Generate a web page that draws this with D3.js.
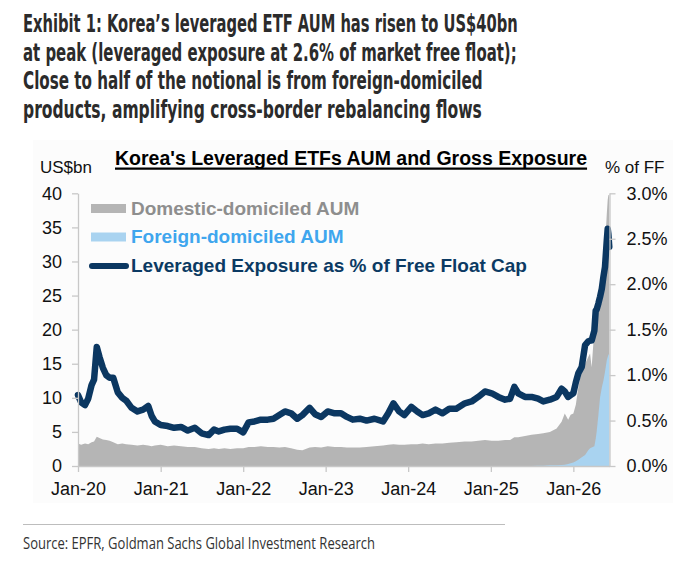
<!DOCTYPE html>
<html><head><meta charset="utf-8">
<script src="https://cdn.jsdelivr.net/npm/d3@7"></script>
<style>body{margin:0;background:#fff}</style>
</head><body>
<svg id="c" width="695" height="562"></svg>
<script>
// ---------------- DATA ----------------
const titleLines = [
  "Exhibit 1: Korea\u2019s leveraged ETF AUM has risen to US$40bn",
  "at peak (leveraged exposure at 2.6% of market free float);",
  "Close to half of the notional is from foreign-domiciled",
  "products, amplifying cross-border rebalancing flows"
];
const chartTitle = "Korea's Leveraged ETFs AUM and Gross Exposure";
const leftUnit = "US$bn";
const rightUnit = "% of FF";
const seriesNames = ["Domestic-domiciled AUM", "Foreign-domiciled AUM", "Leveraged Exposure as % of Free Float Cap"];
const sourceText = "Source: EPFR, Goldman Sachs Global Investment Research";
const leftTicks = [0, 5, 10, 15, 20, 25, 30, 35, 40];
const rightTicks = [0, 0.005, 0.01, 0.015, 0.02, 0.025, 0.03];
const xTickDates = ["2020-01-01","2021-01-01","2022-01-01","2023-01-01","2024-01-01","2025-01-01","2026-01-01"];
const xTickLabels = ["Jan-20","Jan-21","Jan-22","Jan-23","Jan-24","Jan-25","Jan-26"];

const dates = [
 "2020-01-01","2020-01-15","2020-02-01","2020-02-15","2020-03-01","2020-03-12","2020-03-24","2020-04-05","2020-04-20","2020-05-05",
 "2020-05-20","2020-06-05","2020-06-25","2020-07-15","2020-08-01","2020-08-25","2020-09-20","2020-10-15","2020-11-07","2020-11-22",
 "2020-12-06","2021-01-01","2021-02-01","2021-03-01","2021-04-01","2021-05-01","2021-06-01","2021-07-01","2021-08-01","2021-08-25",
 "2021-09-15","2021-10-10","2021-11-05","2021-12-05","2022-01-01","2022-01-25","2022-02-20","2022-03-20","2022-04-20","2022-05-15",
 "2022-06-10","2022-07-05","2022-08-01","2022-08-28","2022-09-20","2022-10-22","2022-11-15","2022-12-12","2023-01-10","2023-02-10",
 "2023-03-10","2023-04-05","2023-05-01","2023-06-01","2023-07-01","2023-08-05","2023-09-12","2023-10-05","2023-10-28","2023-11-22",
 "2023-12-15","2024-01-15","2024-02-10","2024-03-05","2024-04-01","2024-05-01","2024-06-01","2024-07-01","2024-08-01","2024-09-08",
 "2024-10-08","2024-11-06","2024-12-06","2025-01-05","2025-02-03","2025-03-05","2025-03-27","2025-04-15","2025-05-02","2025-06-01",
 "2025-06-30","2025-07-29","2025-08-21","2025-09-19","2025-10-19","2025-11-10","2025-11-24","2025-12-09","2025-12-20","2026-01-01",
 "2026-01-12","2026-01-23","2026-02-07","2026-02-22","2026-03-08","2026-03-16","2026-03-23","2026-04-04","2026-04-10","2026-04-14",
 "2026-04-22","2026-04-29","2026-05-07","2026-05-14","2026-05-21","2026-05-29","2026-06-02","2026-06-05","2026-06-09"
];
// Leveraged exposure as % of free float cap (right axis, in %)
const exposurePct = [
 0.78,0.70,0.67,0.74,0.89,0.95,1.31,1.20,1.08,1.00,
 0.97,0.97,0.81,0.75,0.72,0.64,0.60,0.62,0.66,0.55,
 0.49,0.45,0.44,0.42,0.43,0.39,0.42,0.36,0.34,0.40,
 0.38,0.40,0.41,0.41,0.37,0.48,0.49,0.51,0.51,0.52,
 0.56,0.60,0.58,0.52,0.56,0.64,0.57,0.54,0.60,0.58,
 0.58,0.54,0.51,0.52,0.50,0.52,0.49,0.58,0.69,0.60,
 0.56,0.65,0.60,0.56,0.58,0.62,0.58,0.63,0.63,0.69,
 0.71,0.76,0.82,0.80,0.76,0.73,0.74,0.87,0.80,0.76,
 0.76,0.74,0.71,0.73,0.76,0.85,0.82,0.76,0.78,0.80,
 0.92,1.02,1.09,1.33,1.37,1.38,1.38,1.49,1.71,1.72,
 1.79,1.86,1.95,2.08,2.19,2.48,2.61,2.55,2.41
];
// Domestic-domiciled AUM (US$bn)
const domesticAUM = [
 3.3,3.1,3.3,3.2,3.5,3.6,4.3,4.1,3.9,3.8,
 3.7,3.5,3.2,3.3,3.2,3.1,3.0,3.1,3.0,2.9,
 3.0,3.1,2.9,3.0,2.9,2.8,2.8,2.6,2.5,2.6,
 2.5,2.6,2.5,2.6,2.6,2.8,2.8,2.9,2.8,2.8,
 2.7,2.8,2.6,2.4,2.3,2.7,2.8,2.7,2.9,2.8,
 2.8,2.7,2.7,2.7,2.8,2.9,3.0,3.1,3.2,3.1,
 3.1,3.2,3.2,3.3,3.2,3.3,3.3,3.4,3.5,3.6,
 3.6,3.7,3.8,3.7,3.7,3.8,3.8,4.2,4.2,4.4,
 4.6,4.65,4.75,4.9,5.4,6.35,7.5,6.5,7.1,7.2,
 8.3,10.6,12.7,13.4,13.7,13.9,11.8,17.1,17.8,17.5,
 16.3,14.3,13.5,16.0,18.2,21.5,23.0,23.4,23.3
];
// Foreign-domiciled AUM (US$bn)
const foreignAUM = [
 0,0,0,0,0,0,0,0,0,0,
 0,0,0,0,0,0,0,0,0,0,
 0,0,0,0,0,0,0,0,0,0,
 0,0,0,0,0,0,0,0,0,0,
 0,0,0,0,0,0,0,0,0,0,
 0,0,0,0,0,0,0,0,0,0,
 0,0,0,0,0,0,0,0,0,0,
 0,0,0,0,0,0,0,0,0,0,
 0,0.05,0.05,0.1,0.1,0.15,0.2,0.3,0.4,0.5,
 0.7,0.9,1.3,1.6,2.3,2.6,2.7,2.9,4.0,5.0,
 7.5,10.0,11.5,12.5,13.8,15.5,16.0,16.3,16.5
];

// ---------------- CHART ----------------
const svg = d3.select("#c");
svg.append("rect").attr("width",695).attr("height",562).attr("fill","#fff");
svg.append("rect").attr("x",33).attr("y",140).attr("width",640).attr("height",363).attr("fill","#fcfcfc");

// helper: draw text then squeeze horizontally to a target width
function fitText(parent, str, x0, y0, target, attrs){
  const g = parent.append("g");
  const t = g.append("text").attr("x",0).attr("y",0);
  Object.entries(attrs).forEach(([k,v])=>t.attr(k,v));
  t.text(str);
  const w = t.node().getComputedTextLength();
  const k = target / w;
  g.attr("transform",`translate(${x0},${y0}) scale(${k},1)`);
  return g;
}

const titleWidths = [495, 494, 460, 459];
const titleY = [32, 60.5, 89, 117.5];
titleLines.forEach((s,i)=>fitText(svg, s, 23, titleY[i], titleWidths[i], {
  "font-family":"'DejaVu Sans Condensed','Liberation Sans Narrow','Roboto',sans-serif",
  "font-weight":"bold","font-size":25,"fill":"#2b2b2b"}));

const parse = d3.timeParse("%Y-%m-%d");
const table = dates.map((d,i)=>({date:parse(d), domestic:domesticAUM[i], foreign:foreignAUM[i], pct:exposurePct[i]}));

const x = d3.scaleTime().domain([parse("2020-01-01"), parse("2026-06-10")]).range([78, 609.5]);
const yL = d3.scaleLinear().domain([0,40]).range([466,193.3]);
const yR = d3.scaleLinear().domain([0,0.03]).range([466,193.3]);

const stack = d3.stack().keys(["foreign","domestic"]);
const layers = stack(table);
const area0 = d3.area().x(d=>x(d.data.date)).y0(yL(0)).y1(d=>yL(d[1]));

// total (domestic stacked on foreign) in grey, foreign in light blue in front
svg.append("path").datum(layers[1]).attr("d",area0).attr("fill","#b5b5b5");
svg.append("path").datum(layers[0]).attr("d",area0).attr("fill","#a9d3f0");

const line = d3.line().x(d=>x(d.date)).y(d=>yR(d.pct/100));
svg.append("path").datum(table).attr("d",line).attr("fill","none")
  .attr("stroke","#0b3761").attr("stroke-width",6.5).attr("stroke-linejoin","round").attr("stroke-linecap","round");

// axes
const axisFont = "'Liberation Sans',Arial,sans-serif";
function styleAxis(g){
  g.attr("font-family",axisFont).attr("font-size",18);
  g.selectAll(".domain").attr("stroke","#c8c8c8").attr("stroke-width",1.3);
  g.selectAll(".tick line").attr("stroke","#c8c8c8").attr("stroke-width",1.3);
  g.selectAll("text").attr("fill","#111");
}
svg.append("g").attr("transform","translate(78,0)")
  .call(d3.axisLeft(yL).tickValues(leftTicks).tickSize(6).tickSizeOuter(0).tickPadding(10))
  .call(styleAxis);
svg.append("g").attr("transform","translate(609.5,0)")
  .call(d3.axisRight(yR).tickValues(rightTicks).tickFormat(d3.format(".1%")).tickSize(6).tickSizeOuter(0).tickPadding(11))
  .call(styleAxis);
svg.append("g").attr("transform","translate(0,466)")
  .call(d3.axisBottom(x).tickValues(xTickDates.map(parse)).tickFormat((d,i)=>xTickLabels[i]).tickSize(6).tickSizeOuter(0).tickPadding(10))
  .call(styleAxis);

// unit labels
svg.append("text").attr("x",40).attr("y",173).attr("font-family",axisFont).attr("font-size",17).attr("fill","#111").text(leftUnit);
svg.append("text").attr("x",605).attr("y",173).attr("font-family",axisFont).attr("font-size",17).attr("fill","#111").text(rightUnit);

// chart title (underlined)
const ct = svg.append("text").attr("x",115).attr("y",165).attr("font-family",axisFont)
  .attr("font-weight","bold").attr("font-size",19.5).attr("fill","#000").text(chartTitle);
const ctw = ct.node().getComputedTextLength();
svg.append("line").attr("x1",115).attr("x2",115+ctw).attr("y1",168.6).attr("y2",168.6).attr("stroke","#000").attr("stroke-width",2.2);

// legend
const lg = svg.append("g").attr("font-family",axisFont).attr("font-weight","bold").attr("font-size",19);
lg.append("rect").attr("x",91).attr("y",204).attr("width",35).attr("height",9).attr("fill","#b5b5b5");
lg.append("text").attr("x",131).attr("y",215).attr("fill","#8e8e8e").text(seriesNames[0]);
lg.append("rect").attr("x",91).attr("y",232.5).attr("width",35).attr("height",9).attr("fill","#a9d3f0");
lg.append("text").attr("x",131).attr("y",243).attr("fill","#3fa6ee").text(seriesNames[1]);
lg.append("line").attr("x1",92).attr("x2",126).attr("y1",266).attr("y2",266).attr("stroke","#0b3761").attr("stroke-width",6).attr("stroke-linecap","round");
lg.append("text").attr("x",131).attr("y",272).attr("fill","#0b3a63").text(seriesNames[2]);

// source
svg.append("line").attr("x1",23).attr("x2",505).attr("y1",524.5).attr("y2",524.5).attr("stroke","#bdbdbd").attr("stroke-width",1);
fitText(svg, sourceText, 23, 549, 352, {"font-family":"'Open Sans','Noto Sans',sans-serif","font-size":16,"fill":"#333"});
</script>
</body></html>
